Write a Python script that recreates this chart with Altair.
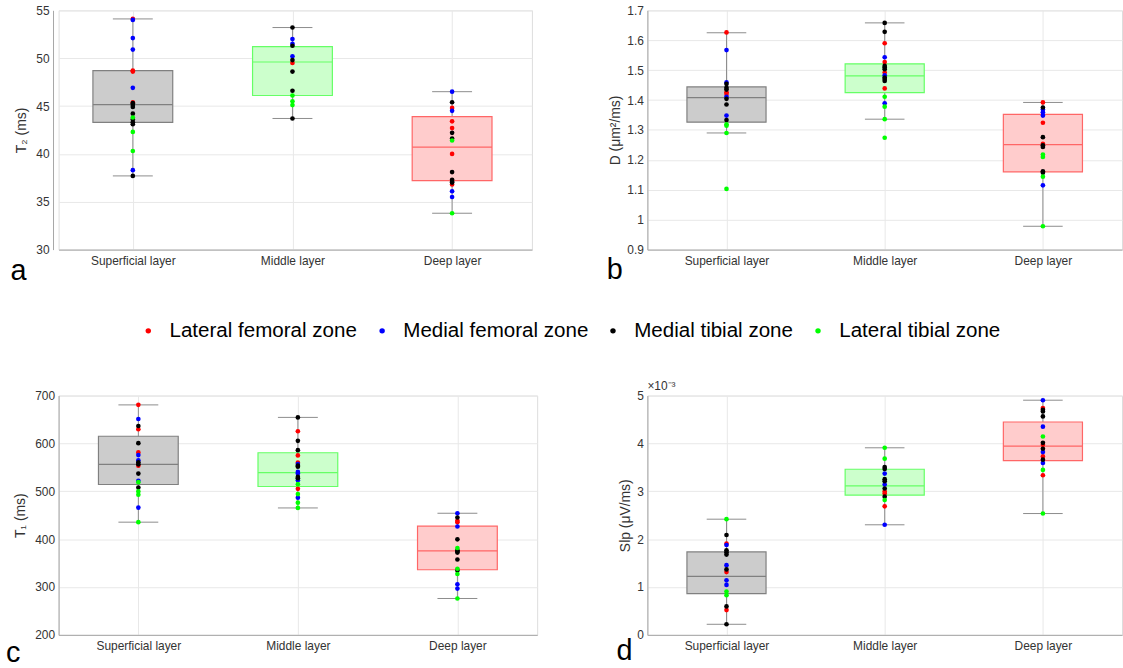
import json
import altair as alt
import pandas as pd

FONT = "Liberation Sans"
TEXT = "#333333"
GRID = "#e8e8e8"
DOMAIN = "#a6a6a6"
WHISKER = "#8c8c8c"

LAYERS = ["Superficial layer", "Middle layer", "Deep layer"]
ZONES = ["Lateral femoral zone", "Medial femoral zone", "Medial tibial zone", "Lateral tibial zone"]
ZONE_CODES = ["r", "b", "k", "g"]
ZONE_COLORS = ["#ff0000", "#0000ff", "#000000", "#00ff00"]
BOX_FILLS = ["#cccccc", "#ccffcc", "#ffcccc"]
BOX_EDGES = ["#808080", "#66ff66", "#ff6666"]

# ---------------- panel a : T2 (ms) ----------------
T2_SUP = [54.1, 48.7, 48.6, 45.4, 54.0, 52.1, 50.9, 46.9, 38.3,
          45.3, 45.1, 44.9, 44.2, 43.6, 43.3, 43.1, 37.7, 43.8, 42.3, 40.3]
T2_SUP_Z = ["r", "r", "r", "r", "b", "b", "b", "b", "b",
            "k", "k", "k", "k", "k", "k", "k", "k", "g", "g", "g"]
T2_MID = [49.5, 52.0, 51.5, 50.2, 53.2, 51.3, 49.8, 48.6, 46.6, 43.7, 46.1, 45.5, 45.1]
T2_MID_Z = ["r", "b", "b", "b", "k", "k", "k", "k", "k", "k", "g", "g", "g"]
T2_DEEP = [44.8, 43.4, 42.7, 40.0, 36.8, 46.5, 44.5, 36.1, 35.5,
           45.4, 42.2, 41.6, 38.1, 37.3, 37.1, 37.0, 41.4, 33.8]
T2_DEEP_Z = ["r", "r", "r", "r", "r", "b", "b", "b", "b",
             "k", "k", "k", "k", "k", "k", "k", "g", "g"]
T2_Q1 = [43.3, 46.1, 37.2]
T2_MED = [45.15, 49.6, 40.7]
T2_Q3 = [48.7, 51.2, 43.9]
T2_LO = [37.7, 43.7, 33.8]
T2_HI = [54.1, 53.2, 46.5]

# ---------------- panel b : D ----------------
D_SUP = [1.626, 1.426, 1.420, 1.567, 1.459, 1.411, 1.348,
         1.454, 1.441, 1.435, 1.404, 1.385, 1.333, 1.319, 1.314, 1.290, 1.103]
D_SUP_Z = ["r", "r", "r", "b", "b", "b", "b",
           "k", "k", "k", "k", "k", "k", "g", "g", "g", "g"]
D_MID = [1.590, 1.527, 1.492, 1.439, 1.543, 1.483, 1.389,
         1.658, 1.628, 1.514, 1.509, 1.503, 1.475, 1.470, 1.464,
         1.411, 1.378, 1.336, 1.274]
D_MID_Z = ["r", "r", "r", "r", "b", "b", "b",
           "k", "k", "k", "k", "k", "k", "k", "k",
           "g", "g", "g", "g"]
D_DEEP = [1.392, 1.324, 1.254, 1.368, 1.359, 1.348, 1.115,
          1.375, 1.276, 1.249, 1.243, 1.162, 1.157, 1.218, 1.210, 1.144, 0.978]
D_DEEP_Z = ["r", "r", "r", "b", "b", "b", "b",
            "k", "k", "k", "k", "k", "k", "g", "g", "g", "g"]
D_Q1 = [1.326, 1.425, 1.160]
D_MED = [1.408, 1.481, 1.251]
D_Q3 = [1.444, 1.521, 1.352]
D_LO = [1.290, 1.336, 0.978]
D_HI = [1.625, 1.658, 1.392]

# ---------------- panel c : T1 (ms) ----------------
T1_SUP = [680.7, 629.6, 581.2, 553.6, 651.0, 575.7, 564.6, 521.8, 465.9,
          636.5, 600.6, 560.5, 556.4, 537.0, 508.0, 519.0, 499.7, 492.8, 435.5]
T1_SUP_Z = ["r", "r", "r", "r", "b", "b", "b", "b", "b",
            "k", "k", "k", "k", "k", "k", "g", "g", "g", "g"]
T1_MID = [625.4, 575.0, 559.8, 505.2, 557.0, 540.5, 537.0, 523.2, 486.6,
          654.4, 605.4, 586.0, 553.6, 551.5, 530.1, 527.3, 514.9, 494.2, 476.2, 465.2]
T1_MID_Z = ["r", "r", "r", "r", "b", "b", "b", "b", "b",
            "k", "k", "k", "k", "k", "k", "k", "g", "g", "g", "g"]
T1_DEEP = [438.3, 435.5, 454.1, 426.5, 305.7, 296.7,
           445.2, 399.6, 376.8, 374.0, 372.0, 357.5, 334.7, 381.6, 338.1, 327.1, 276.0]
T1_DEEP_Z = ["r", "r", "b", "b", "b", "b",
             "k", "k", "k", "k", "k", "k", "k", "g", "g", "g", "g"]
T1_Q1 = [514.2, 510.0, 336.0]
T1_MED = [556.4, 539.0, 375.4]
T1_Q3 = [615.0, 580.5, 427.2]
T1_LO = [435.5, 465.2, 276.0]
T1_HI = [680.5, 654.4, 454.1]

# ---------------- panel d : Slp (x10^-3 uV/ms) ----------------
SLP_SUP = [1.906, 1.312, 0.518, 1.878, 1.457, 1.139, 1.043,
           2.086, 1.768, 1.726, 1.678, 1.367, 0.594, 0.221, 2.417, 0.905, 0.829]
SLP_SUP_Z = ["r", "r", "r", "b", "b", "b", "b",
             "k", "k", "k", "k", "k", "k", "k", "g", "g", "g"]
SLP_MID = [2.997, 2.956, 2.686, 3.370, 3.142, 2.300,
           3.508, 3.467, 3.253, 3.211, 3.059, 2.887, 3.909, 3.681, 2.818]
SLP_MID_Z = ["r", "r", "r", "b", "b", "b",
             "k", "k", "k", "k", "k", "k", "g", "g", "g"]
SLP_DEEP = [4.738, 3.971, 3.729, 3.336, 4.903, 4.351, 3.819, 3.591,
            4.703, 4.669, 4.565, 4.012, 3.888, 3.660, 4.144, 3.446, 2.535]
SLP_DEEP_Z = ["r", "r", "r", "r", "b", "b", "b", "b",
              "k", "k", "k", "k", "k", "k", "g", "g", "g"]
SLP_Q1 = [0.863, 2.921, 3.640]
SLP_MED = [1.222, 3.115, 3.943]
SLP_Q3 = [1.733, 3.460, 4.448]
SLP_LO = [0.221, 2.300, 2.535]
SLP_HI = [2.417, 3.909, 4.903]

LABEL_EXPR = json.dumps(LAYERS) + "[datum.value - 1]"


def build_points(groups, zone_groups):
    rows = []
    for i, (vals, zs) in enumerate(zip(groups, zone_groups)):
        for v, z in zip(vals, zs):
            k = ZONE_CODES.index(z)
            rows.append({"pos": i + 1, "value": v, "zone": ZONES[k], "order": k})
    return pd.DataFrame(rows)


def panel(groups, zone_groups, q1, med, q3, lo, hi, ydom, yvals, yfmt, ytitle,
          tpad, letter, lx, ly, width, height, xmin=0.5, yoff=0, extra=None):
    pts = build_points(groups, zone_groups)
    box = pd.DataFrame({"pos": [1, 2, 3], "q1": q1, "med": med, "q3": q3,
                        "lo": lo, "hi": hi, "fill": BOX_FILLS, "edge": BOX_EDGES})
    xscale = alt.Scale(domain=[xmin, 3.5], nice=False, zero=False)
    xaxis = alt.Axis(values=[1, 2, 3], labelExpr=LABEL_EXPR, title="", grid=True,
                     gridColor=GRID, domainColor=DOMAIN, ticks=False,
                     labelFontSize=12, labelColor=TEXT, labelPadding=6, labelFont=FONT)
    yscale = alt.Scale(domain=ydom, nice=False, zero=False)
    yaxis = alt.Axis(values=yvals, format=yfmt, title=ytitle, grid=True,
                     gridColor=GRID, domainColor=DOMAIN, ticks=False, offset=yoff,
                     labelFontSize=12, labelColor=TEXT, labelPadding=4, labelFont=FONT,
                     titleFont=FONT, titleFontSize=14, titleFontWeight="normal",
                     titleColor=TEXT, titlePadding=tpad)

    def X(f):
        return alt.X(f, scale=xscale, axis=xaxis)

    def Y(f):
        return alt.Y(f, scale=yscale, axis=yaxis)

    base = alt.Chart(box).transform_calculate(
        xl="datum.pos - 0.25", xr="datum.pos + 0.25",
        cl="datum.pos - 0.125", cr="datum.pos + 0.125")
    whisk = base.mark_rule(color=WHISKER, strokeWidth=1).encode(
        x=X("pos:Q"), y=Y("lo:Q"), y2="hi:Q")
    rect = base.mark_rect(strokeWidth=1.2).encode(
        x=X("xl:Q"), x2="xr:Q", y=Y("q1:Q"), y2="q3:Q",
        fill=alt.Fill("fill:N", scale=None), stroke=alt.Stroke("edge:N", scale=None))
    medl = base.mark_rule(strokeWidth=1.2).encode(
        x=X("xl:Q"), x2="xr:Q", y=Y("med:Q"), stroke=alt.Stroke("edge:N", scale=None))
    cap_lo = base.mark_rule(color=WHISKER, strokeWidth=1).encode(
        x=X("cl:Q"), x2="cr:Q", y=Y("lo:Q"))
    cap_hi = base.mark_rule(color=WHISKER, strokeWidth=1).encode(
        x=X("cl:Q"), x2="cr:Q", y=Y("hi:Q"))
    legend = alt.Legend(title=None, orient="none", legendX=80, legendY=312,
                        direction="horizontal", symbolType="circle", symbolSize=30,
                        symbolStrokeWidth=0, labelFontSize=20.7, labelFont=FONT,
                        labelColor="#000000", labelOffset=11, columnPadding=14.5,
                        padding=0, labelLimit=400)
    dots = alt.Chart(pts).mark_circle(size=22, opacity=1).encode(
        x=X("pos:Q"), y=Y("value:Q"),
        color=alt.Color("zone:N", scale=alt.Scale(domain=ZONES, range=ZONE_COLORS),
                        legend=legend),
        order=alt.Order("order:Q"))
    lab = alt.Chart(pd.DataFrame({"t": [letter]})).mark_text(
        align="left", baseline="alphabetic", fontSize=29, font=FONT, color="#000000"
    ).encode(x=alt.value(lx), y=alt.value(ly), text="t:N")
    layers = [whisk, rect, medl, cap_lo, cap_hi, dots, lab]
    if extra:
        layers.append(alt.Chart(pd.DataFrame({"t": [extra]})).mark_text(
            align="left", baseline="bottom", fontSize=12, font=FONT, color=TEXT
        ).encode(x=alt.value(0), y=alt.value(-3), text="t:N"))
    return alt.layer(*layers).properties(width=width, height=height)


# panel a: its y axis sits 5.6 px left of the column edge, as in the original figure
pa = panel([T2_SUP, T2_MID, T2_DEEP], [T2_SUP_Z, T2_MID_Z, T2_DEEP_Z],
           T2_Q1, T2_MED, T2_Q3, T2_LO, T2_HI, [30, 55], [30, 35, 40, 45, 50, 55], "d",
           "T₂ (ms)", 7, "a", -48.3, 272, 476.7, 241, xmin=0.5349, yoff=5.6)
pb = panel([D_SUP, D_MID, D_DEEP], [D_SUP_Z, D_MID_Z, D_DEEP_Z],
           D_Q1, D_MED, D_Q3, D_LO, D_HI, [0.9, 1.7],
           [0.9, 1.0, 1.1, 1.2, 1.3, 1.4, 1.5, 1.6, 1.7], ".1~f",
           "D (μm²/ms)", 4, "b", -41, 271, 478, 241)
pc = panel([T1_SUP, T1_MID, T1_DEEP], [T1_SUP_Z, T1_MID_Z, T1_DEEP_Z],
           T1_Q1, T1_MED, T1_Q3, T1_LO, T1_HI, [200, 700],
           [200, 300, 400, 500, 600, 700], "d",
           "T₁ (ms)", 7, "c", -53, 268, 482, 241)
pd_ = panel([SLP_SUP, SLP_MID, SLP_DEEP], [SLP_SUP_Z, SLP_MID_Z, SLP_DEEP_Z],
            SLP_Q1, SLP_MED, SLP_Q3, SLP_LO, SLP_HI, [0, 5], [0, 1, 2, 3, 4, 5], "d",
            "Slp (μV/ms)", 4, "d", -31, 266, 478, 241, extra="×10⁻³")

row1 = alt.hconcat(pa, pb, spacing=73)
row2 = alt.hconcat(pc, pd_, spacing=78)
chart = alt.vconcat(row1, row2, spacing=92).properties(
    padding={"left": 5, "top": 1, "right": 0, "bottom": 0}
).configure_view(stroke="transparent").configure(font=FONT)

chart.save("out.html", embed_options={"renderer": "svg", "actions": False})
